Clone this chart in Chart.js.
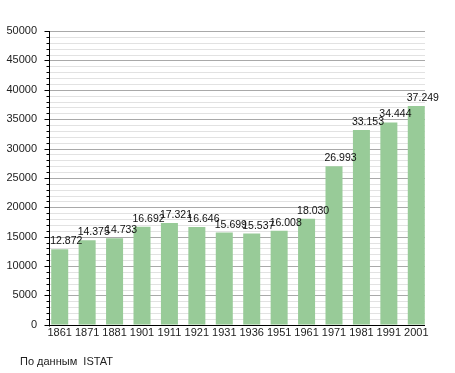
<!DOCTYPE html>
<html>
<head>
<meta charset="utf-8">
<script src="https://cdn.jsdelivr.net/npm/chart.js@4/dist/chart.umd.min.js"></script>
<style>
    html, body { margin: 0; padding: 0; background: #fff; }
    #wrap { width: 455px; height: 373px; position: relative; }
</style>
</head>
<body>
<div id="wrap"><canvas id="chart"></canvas></div>
<script>
// Население по переписям (данные ISTAT)
const years = ['1861', '1871', '1881', '1901', '1911', '1921', '1931', '1936', '1951', '1961', '1971', '1981', '1991', '2001'];
const population = [12872, 14375, 14733, 16692, 17321, 16646, 15699, 15537, 16008, 18030, 26993, 33153, 34444, 37249];
const yMax = 50000;
const yStep = 5000;
const yMinorStep = 1000;
const sourceText = 'По данным  ISTAT';

const FONT = '"Liberation Sans", Arial, sans-serif';

function formatPopulation(v) {
    // 12872 -> "12.872"
    return String(v).replace(/\B(?=(\d{3})+(?!\d))/g, '.');
}

function barSpan(chart) {
    const bars = chart.getDatasetMeta(0).data;
    const first = bars[0];
    const last = bars[bars.length - 1];
    return {
        bars,
        x0: Math.round(first.x - first.width / 2) - 1.5,
        x1: Math.round(last.x + last.width / 2)
    };
}

// grid lines, axis lines and small ticks, drawn behind the bars
const gridPlugin = {
    id: 'gridPlugin',
    beforeDatasetsDraw(chart) {
        const ctx = chart.ctx;
        const y = chart.scales.y;
        const { x0, x1 } = barSpan(chart);

        ctx.save();
        ctx.lineWidth = 1;
        for (let v = yMinorStep; v <= yMax; v += yMinorStep) {
            const py = Math.round(y.getPixelForValue(v)) + 0.5;
            ctx.strokeStyle = v % yStep === 0 ? '#a9a9a9' : '#e2e2e2';
            ctx.beginPath();
            ctx.moveTo(x0, py);
            ctx.lineTo(x1, py);
            ctx.stroke();
        }
        // y axis ticks
        ctx.strokeStyle = '#000';
        for (let v = 0; v <= yMax; v += yMinorStep) {
            const py = Math.round(y.getPixelForValue(v)) + 0.5;
            const len = v % yStep === 0 ? 5 : 3;
            ctx.beginPath();
            ctx.moveTo(x0 - len, py);
            ctx.lineTo(x0, py);
            ctx.stroke();
        }
        const top = Math.round(y.getPixelForValue(yMax));
        const bottom = Math.round(y.getPixelForValue(0)) + 0.5;
        ctx.beginPath();
        ctx.moveTo(x0, top);
        ctx.lineTo(x0, bottom + 1);
        ctx.stroke();
        ctx.restore();
    },
    afterDatasetsDraw(chart) {
        const ctx = chart.ctx;
        const y = chart.scales.y;
        const { bars, x0, x1 } = barSpan(chart);
        const bottom = Math.round(y.getPixelForValue(0)) + 0.5;

        ctx.save();
        ctx.strokeStyle = '#000';
        ctx.lineWidth = 1;
        ctx.beginPath();
        ctx.moveTo(x0, bottom);
        ctx.lineTo(x1, bottom);
        ctx.stroke();

        // value labels above the bars
        ctx.fillStyle = '#111';
        ctx.font = '10.5px ' + FONT;
        ctx.textAlign = 'left';
        ctx.textBaseline = 'alphabetic';
        bars.forEach((bar, i) => {
            ctx.fillText(formatPopulation(population[i]), bar.x - bar.width / 2 - 1, bar.y - 5);
        });
        ctx.restore();
    },
    afterDraw(chart) {
        // source note under the chart
        const ctx = chart.ctx;
        ctx.save();
        ctx.fillStyle = '#222';
        ctx.font = '11px ' + FONT;
        ctx.textAlign = 'left';
        ctx.textBaseline = 'middle';
        ctx.fillText(sourceText, 20, chart.height - 11);
        ctx.restore();
    }
};

new Chart(document.getElementById('chart').getContext('2d'), {
    type: 'bar',
    data: {
        labels: years,
        datasets: [
            {
                label: 'Население',
                data: population,
                backgroundColor: '#98cb98',
                borderWidth: 0,
                barPercentage: 0.62,
                categoryPercentage: 1
            }
        ]
    },
    options: {
        responsive: true,
        maintainAspectRatio: false,
        animation: false,
        layout: {
            padding: { left: 0, right: 25, top: 31, bottom: 31 }
        },
        scales: {
            x: {
                grid: { display: false, drawTicks: false },
                border: { display: false },
                ticks: {
                    color: '#222',
                    font: { family: FONT, size: 11 },
                    padding: 2,
                    maxRotation: 0,
                    autoSkip: false
                }
            },
            y: {
                min: 0,
                max: yMax,
                grid: { display: false, drawTicks: false },
                border: { display: false },
                ticks: {
                    stepSize: yStep,
                    color: '#222',
                    font: { family: FONT, size: 11 },
                    padding: 9,
                    callback: (value) => String(value)
                },
                afterFit(scale) {
                    scale.width = 46;
                }
            }
        },
        plugins: {
            legend: { display: false },
            tooltip: { enabled: false },
            title: { display: false }
        }
    },
    plugins: [gridPlugin]
});
</script>
</body>
</html>
